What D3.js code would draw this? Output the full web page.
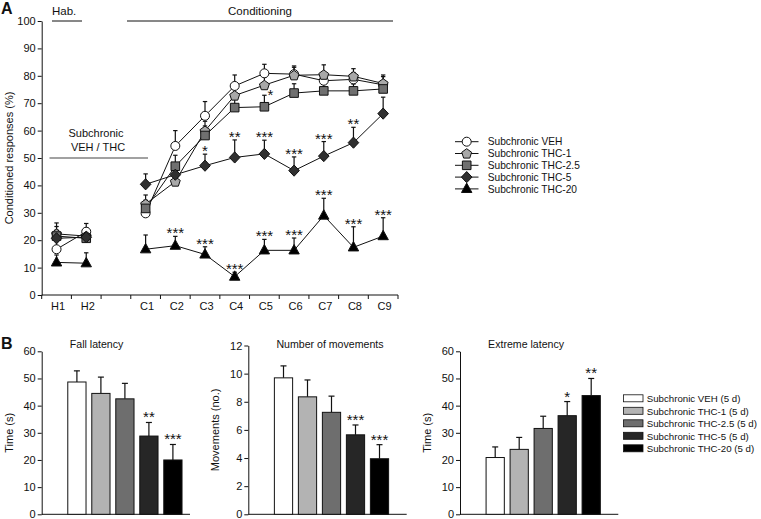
<!DOCTYPE html>
<html>
<head>
<meta charset="utf-8">
<script src="https://cdn.jsdelivr.net/npm/d3@7"></script>
<style>
  html, body { margin: 0; padding: 0; background: #fff; }
  svg { display: block; font-family: "Liberation Sans", Arial, Helvetica, sans-serif; }
</style>
</head>
<body>
<svg id="chart" width="761" height="519"></svg>
<script>
// ---------------- DATA ----------------
// Panel A: conditioned responses (%) per session
const sessions = ["H1", "H2", "gap", "C1", "C2", "C3", "C4", "C5", "C6", "C7", "C8", "C9"];
const sessionLabels = ["H1", "H2", "", "C1", "C2", "C3", "C4", "C5", "C6", "C7", "C8", "C9"];
const dataSessions = ["H1", "H2", "C1", "C2", "C3", "C4", "C5", "C6", "C7", "C8", "C9"];
const seriesNames = ["Subchronic VEH", "Subchronic THC-1", "Subchronic THC-2.5", "Subchronic THC-5", "Subchronic THC-20"];

const vehMean   = [16.7, 23.1, 29.8, 54.4, 65.4, 76.3, 80.9, 80.6, 78.2, 78.7, 76.7];
const vehSem    = [3.0, 3.0, 3.0, 5.6, 5.2, 4.0, 3.3, 2.5, 3.0, 2.5, 3.0];
const thc1Mean  = [22.3, 21.5, 33.2, 41.4, 59.9, 72.8, 76.6, 80.2, 80.4, 79.8, 77.2];
const thc1Sem   = [4.0, 3.0, 3.3, 3.0, 3.5, 3.0, 3.0, 3.4, 3.6, 2.8, 3.1];
const thc25Mean = [21.5, 20.7, 31.6, 47.0, 58.2, 68.4, 68.7, 73.7, 74.5, 74.5, 75.2];
const thc25Sem  = [3.5, 2.5, 3.0, 4.0, 3.5, 3.0, 4.2, 3.4, 2.5, 2.5, 2.0];
const thc5Mean  = [20.7, 21.1, 40.4, 43.9, 47.2, 50.2, 51.5, 45.4, 50.7, 55.6, 66.2];
const thc5Sem   = [3.0, 2.0, 3.8, 3.0, 4.2, 6.4, 5.0, 5.0, 5.3, 5.6, 6.0];
const thc20Mean = [11.9, 11.6, 16.7, 18.0, 14.8, 6.7, 16.3, 16.3, 29.0, 17.4, 21.5];
const thc20Sem  = [2.7, 3.8, 5.2, 3.4, 2.8, 1.6, 4.0, 4.5, 6.3, 7.5, 6.7];

const yTicksA = [0, 10, 20, 30, 40, 50, 60, 70, 80, 90, 100];

// significance marks: [series index, session, label]
const starsA = [
  [2, "C5", "*"],
  [3, "C3", "*"], [3, "C4", "**"], [3, "C5", "***"], [3, "C6", "***"], [3, "C7", "***"], [3, "C8", "**"],
  [4, "C2", "***"], [4, "C3", "***"], [4, "C4", "***"], [4, "C5", "***"], [4, "C6", "***"],
  [4, "C7", "***"], [4, "C8", "***"], [4, "C9", "***"]
];

// Panel B
const groupsB = ["Subchronic VEH (5 d)", "Subchronic THC-1 (5 d)", "Subchronic THC-2.5 (5 d)", "Subchronic THC-5 (5 d)", "Subchronic THC-20 (5 d)"];
const fallMean = [48.7, 44.5, 42.5, 28.8, 20.0];
const fallSem  = [4.1, 6.0, 5.7, 5.0, 5.7];
const fallStars = ["", "", "", "**", "***"];
const movMean  = [9.7, 8.35, 7.25, 5.65, 3.95];
const movSem   = [0.85, 1.2, 1.15, 0.7, 1.0];
const movStars = ["", "", "", "***", "***"];
const extMean  = [20.9, 23.9, 31.6, 36.3, 43.7];
const extSem   = [3.9, 4.4, 4.5, 5.2, 6.3];
const extStars = ["", "", "", "*", "**"];
const yTicksTime = [0, 10, 20, 30, 40, 50, 60];
const yTicksMov = [0, 2, 4, 6, 8, 10, 12];

// ---------------- STYLE ----------------
const markerFill = ["#ffffff", "#a8a8a8", "#707070", "#303030", "#000000"];
const markerShape = ["circle", "pentagon", "square", "diamond", "triangle"];
const barFill = ["#ffffff", "#b3b3b3", "#6e6e6e", "#262626", "#000000"];
const ink = "#111";

const svg = d3.select("#chart");
const means = [vehMean, thc1Mean, thc25Mean, thc5Mean, thc20Mean];
const sems = [vehSem, thc1Sem, thc25Sem, thc5Sem, thc20Sem];

function shapePath(shape) {
  if (shape === "circle") return d3.symbol(d3.symbolCircle, Math.PI * 4.5 * 4.5)();
  if (shape === "square") return "M-4.3,-4.3H4.3V4.3H-4.3Z";
  if (shape === "diamond") return "M0,-5.6L5.3,0L0,5.6L-5.3,0Z";
  if (shape === "triangle") return "M0,-5.8L5.2,3.6L-5.2,3.6Z";
  if (shape === "pentagon") {
    const r = 5.2;
    const pts = d3.range(5).map(i => {
      const a = -Math.PI / 2 + i * 2 * Math.PI / 5;
      return [r * Math.cos(a), r * Math.sin(a) + 0.4];
    });
    return "M" + pts.map(p => p.join(",")).join("L") + "Z";
  }
}

// ---------------- PANEL A ----------------
const ax0 = 41.7, ax1 = 398, ayTop = 21, ayBot = 295;
const xA = d3.scaleBand().domain(sessions).range([ax0, ax1]).padding(0);
const yA = d3.scaleLinear().domain([0, 100]).range([ayBot, ayTop]);
const cx = s => xA(s) + xA.bandwidth() / 2;

const gA = svg.append("g");

// panel letter
svg.append("text").attr("x", 1).attr("y", 14).attr("font-size", 16).attr("font-weight", "bold").attr("fill", ink).text("A");

// Y axis
const yAxisA = d3.axisLeft(yA).tickValues(yTicksA).tickSize(4).tickSizeOuter(0).tickPadding(2);
const gy = gA.append("g").attr("transform", `translate(${ax0},0)`).call(yAxisA);
gy.selectAll("text").attr("font-size", 11).attr("fill", ink).attr("font-family", "Liberation Sans, Arial, sans-serif");
gy.selectAll("line,path").attr("stroke", ink);

// X axis (custom: ticks at band boundaries)
gA.append("line").attr("x1", ax0).attr("x2", ax1).attr("y1", ayBot).attr("y2", ayBot).attr("stroke", ink);
const bounds = sessions.map(s => xA(s)).concat([ax1]);
gA.selectAll(".xtickA").data(bounds).join("line")
  .attr("x1", d => d).attr("x2", d => d).attr("y1", ayBot).attr("y2", ayBot + 4).attr("stroke", ink);
gA.selectAll(".xlabA").data(sessions).join("text")
  .attr("x", d => cx(d) + 1.5).attr("y", ayBot + 15).attr("text-anchor", "middle")
  .attr("font-size", 11).attr("fill", ink).text((d, i) => sessionLabels[i]);

// Y label
gA.append("text").attr("transform", `translate(13,${(ayTop + ayBot) / 2}) rotate(-90)`)
  .attr("text-anchor", "middle").attr("font-size", 11).attr("fill", ink).text("Conditioned responses (%)");

// Phase annotations
gA.append("text").attr("x", 52).attr("y", 15).attr("font-size", 11.5).attr("fill", ink).text("Hab.");
gA.append("line").attr("x1", 52).attr("x2", 82).attr("y1", ayTop).attr("y2", ayTop).attr("stroke", ink);
gA.append("text").attr("x", 260).attr("y", 15).attr("text-anchor", "middle").attr("font-size", 11.5).attr("fill", ink).text("Conditioning");
gA.append("line").attr("x1", 127).attr("x2", 393).attr("y1", ayTop).attr("y2", ayTop).attr("stroke", ink);
gA.append("text").attr("x", 96).attr("y", 137).attr("text-anchor", "middle").attr("font-size", 11).attr("fill", ink).text("Subchronic");
gA.append("text").attr("x", 98).attr("y", 150.5).attr("text-anchor", "middle").attr("font-size", 11).attr("fill", ink).text("VEH / THC");
gA.append("line").attr("x1", 49.5).attr("x2", 148).attr("y1", yA(50)).attr("y2", yA(50)).attr("stroke", "#444").attr("stroke-width", 1.2);

// Lines (habituation and conditioning separately)
const line = d3.line().x(d => cx(d.s)).y(d => yA(d.m));
const seriesPts = means.map((arr, k) => arr.map((m, i) => ({ s: dataSessions[i], m, e: sems[k][i], k })));
seriesPts.forEach(pts => {
  gA.append("path").attr("d", line(pts.slice(0, 2))).attr("fill", "none").attr("stroke", ink).attr("stroke-width", 1);
  gA.append("path").attr("d", line(pts.slice(2))).attr("fill", "none").attr("stroke", ink).attr("stroke-width", 1);
});
// Error bars (upper)
seriesPts.forEach(pts => {
  pts.forEach(p => {
    const x = cx(p.s), y0 = yA(p.m), y1 = yA(p.m + p.e);
    gA.append("line").attr("x1", x).attr("x2", x).attr("y1", y0).attr("y2", y1).attr("stroke", ink).attr("stroke-width", 1.2);
    gA.append("line").attr("x1", x - 2.2).attr("x2", x + 2.2).attr("y1", y1).attr("y2", y1).attr("stroke", ink).attr("stroke-width", 1.2);
  });
});
// Markers
seriesPts.forEach((pts, k) => {
  gA.selectAll(null).data(pts).join("path")
    .attr("d", shapePath(markerShape[k]))
    .attr("transform", d => `translate(${cx(d.s)},${yA(d.m)})`)
    .attr("fill", markerFill[k]).attr("stroke", ink).attr("stroke-width", 1);
});
// Stars
starsA.forEach(([k, s, lab]) => {
  const i = dataSessions.indexOf(s);
  const top = yA(means[k][i] + sems[k][i]);
  const side = (k === 2);
  gA.append("text")
    .attr("x", side ? cx(s) + 3 : cx(s))
    .attr("y", side ? top + 5 : top + 2)
    .attr("text-anchor", side ? "start" : "middle")
    .attr("font-size", 15).attr("fill", ink).text(lab);
});

// Legend A
const lgA = gA.append("g");
seriesNames.forEach((name, k) => {
  const y = 141.7 + k * 11.8;
  lgA.append("line").attr("x1", 455).attr("x2", 478.5).attr("y1", y).attr("y2", y).attr("stroke", ink);
  lgA.append("path").attr("d", shapePath(markerShape[k])).attr("transform", `translate(466.7,${y})`)
    .attr("fill", markerFill[k]).attr("stroke", ink);
  lgA.append("text").attr("x", 487.7).attr("y", y + 3.6).attr("font-size", 10.2).attr("fill", ink).text(name);
});

// ---------------- PANEL B ----------------
svg.append("text").attr("x", 1).attr("y", 349).attr("font-size", 16).attr("font-weight", "bold").attr("fill", ink).text("B");

const bBot = 514.3;
function barChart(cfg) {
  const g = svg.append("g");
  const y = d3.scaleLinear().domain([0, cfg.max]).range([bBot, cfg.top]);
  const x = d3.scaleBand().domain(groupsB).range([cfg.x0 + 23.2, cfg.x0 + 23.2 + 120]).paddingInner(0.24).paddingOuter(0.12);
  const ax = d3.axisLeft(y).tickValues(cfg.ticks).tickSize(4).tickSizeOuter(0).tickPadding(2);
  const gy = g.append("g").attr("transform", `translate(${cfg.x0},0)`).call(ax);
  gy.selectAll("text").attr("font-size", 11).attr("fill", ink).attr("font-family", "Liberation Sans, Arial, sans-serif");
  gy.selectAll("line,path").attr("stroke", ink);
  g.append("line").attr("x1", cfg.x0).attr("x2", cfg.x1).attr("y1", bBot).attr("y2", bBot).attr("stroke", ink);
  g.append("text").attr("transform", `translate(${cfg.x0 - 29},${(cfg.top + bBot) / 2}) rotate(-90)`)
    .attr("text-anchor", "middle").attr("font-size", 11).attr("fill", ink).text(cfg.ylabel);
  g.append("text").attr("x", x(groupsB[0]) + 2).attr("y", 348).attr("font-size", 10.6).attr("fill", ink).text(cfg.title);
  groupsB.forEach((grp, i) => {
    const bx = x(grp), bw = x.bandwidth(), xc = bx + bw / 2;
    const topE = y(cfg.mean[i] + cfg.sem[i]);
    g.append("line").attr("x1", xc).attr("x2", xc).attr("y1", y(cfg.mean[i])).attr("y2", topE).attr("stroke", ink).attr("stroke-width", 1.2);
    g.append("line").attr("x1", xc - 3).attr("x2", xc + 3).attr("y1", topE).attr("y2", topE).attr("stroke", ink).attr("stroke-width", 1.2);
    g.append("rect").attr("x", bx).attr("y", y(cfg.mean[i])).attr("width", bw).attr("height", bBot - y(cfg.mean[i]))
      .attr("fill", barFill[i]).attr("stroke", ink).attr("stroke-width", 1);
    if (cfg.stars[i]) {
      g.append("text").attr("x", xc).attr("y", topE).attr("text-anchor", "middle")
        .attr("font-size", 15).attr("fill", ink).text(cfg.stars[i]);
    }
  });
}
barChart({ x0: 41.7, x1: 190, top: 351.3, max: 60, ticks: yTicksTime, mean: fallMean, sem: fallSem, stars: fallStars, title: "Fall latency", ylabel: "Time (s)" });
barChart({ x0: 248.3, x1: 406.7, top: 345.5, max: 12, ticks: yTicksMov, mean: movMean, sem: movSem, stars: movStars, title: "Number of movements", ylabel: "Movements (no.)" });
barChart({ x0: 460, x1: 618.3, top: 351.3, max: 60, ticks: yTicksTime, mean: extMean, sem: extSem, stars: extStars, title: "Extreme latency", ylabel: "Time (s)" });

// Legend B
const lgB = svg.append("g");
groupsB.forEach((name, i) => {
  const y = 398.3 + i * 12.5;
  lgB.append("rect").attr("x", 623.5).attr("y", y - 3.5).attr("width", 19.5).attr("height", 7)
    .attr("fill", barFill[i]).attr("stroke", ink).attr("stroke-width", 0.8);
  lgB.append("text").attr("x", 646.7).attr("y", y + 3.8).attr("font-size", 9.7).attr("fill", ink).text(name);
});
</script>
</body>
</html>
